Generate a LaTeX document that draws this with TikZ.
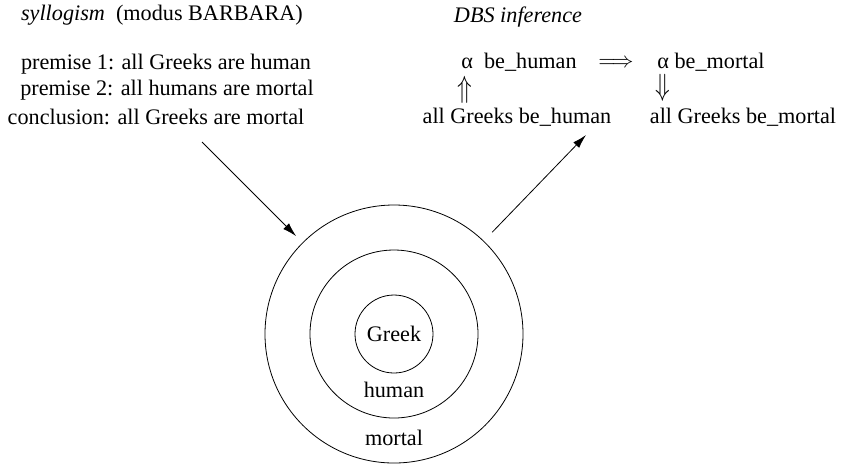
\documentclass[tikz,border=0pt]{standalone}
\usepackage{fontspec}
\setmainfont{Liberation Serif}
\usepackage{tikz}
\usetikzlibrary{arrows.meta}

\begin{document}
\begin{tikzpicture}[x=0.5pt, y=-0.5pt, every node/.style={font=\fontsize{11.1}{13}\selectfont, inner sep=0pt}]
            \useasboundingbox (0,0) rectangle (842,463);

            % left: the syllogism
            \node (title) at (162,15) {\textit{syllogism}\ \ (modus BARBARA)};
            \node (prem1) at (166,64) {premise 1: all Greeks are human};
            \node (prem2) at (167,90) {premise 2: all humans are mortal};
            \node (concl) at (156,117) {conclusion: all Greeks are mortal};

            % right: the DBS inference
            \node (dbs) at (518,17) {\textit{DBS inference}};
            \node (ahuman) at (519,62) {α\ \ be\_human};
            \node (impl) at (616,63) {$\Longrightarrow$};
            \node (amortal) at (711,62) {α be\_mortal};
            \node (up) at (465,90) {\scalebox{1.1}[1.4]{$\Uparrow$}};
            \node (down) at (663,88) {\scalebox{1.1}[1.4]{$\Downarrow$}};
            \node (ghuman) at (517,117) {all Greeks be\_human};
            \node (gmortal) at (743,117) {all Greeks be\_mortal};

            % the three sets
            \node[circle, draw, minimum size=129pt] (mortal) at (394,334) {};
            \node[circle, draw, minimum size=84pt] (human) at (394,334) {};
            \node[circle, draw, minimum size=39pt] (greek) at (394,334) {\raisebox{-1pt}{Greek}};
            \node (humanlbl) at (394,390) {human};
            \node (mortallbl) at (394,438) {mortal};

            \coordinate (syltail) at (202,142);
            \coordinate (dbshead) at (586,135);
            \draw[-{Latex[length=7pt,width=4pt]}, shorten >=4.5pt] (syltail) -- (mortal);
            \draw[-{Latex[length=7pt,width=4pt]}, shorten <=6pt] (mortal) -- (dbshead);
          \end{tikzpicture}
\end{document}
